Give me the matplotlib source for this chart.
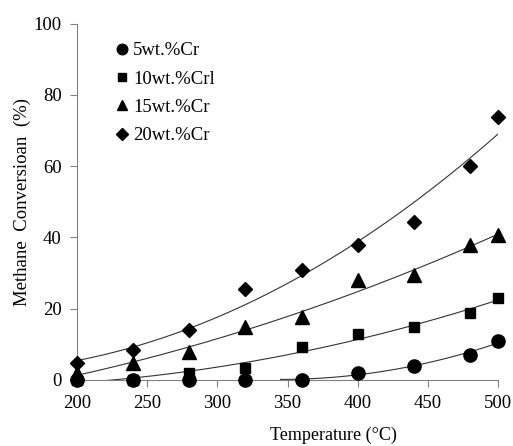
import numpy as np
import matplotlib
matplotlib.use("Agg")
import matplotlib.pyplot as plt

temps = [200, 240, 280, 320, 360, 400, 440, 480, 500]
cr5 = [0, 0, 0, 0, 0, 2.0, 4.0, 7.0, 11.0]
cr10 = [0, 0, 2.0, 3.3, 9.3, 12.9, 14.9, 18.8, 23.0]
cr15 = [2.0, 4.8, 7.9, 14.8, 17.6, 28.0, 29.4, 37.8, 40.6]
cr20 = [4.8, 8.4, 14.0, 25.4, 30.8, 38.0, 44.3, 60.1, 73.8]
labels = ["5wt.%Cr", "10wt.%Crl", "15wt.%Cr", "20wt.%Cr"]
xticks = [200, 250, 300, 350, 400, 450, 500]
yticks = [0, 20, 40, 60, 80, 100]

plt.rcParams['font.family'] = ['Liberation Serif', 'DejaVu Serif']

fig = plt.figure(figsize=(5.13, 4.46), dpi=100)
ax = fig.add_axes([0.150, 0.148, 0.821, 0.799])

x = np.array(temps, dtype=float)
series = [cr5, cr10, cr15, cr20]
markers = ['o', 's', '^', 'D']
msizes = [9.5, 7.5, 9.5, 7.5]

for vals, m, ms, lab in zip(series, markers, msizes, labels):
    y = np.array(vals, dtype=float)
    if lab == labels[0]:
        mask = x >= 360
        c = np.polyfit(x[mask], y[mask], 2)
        xs = np.linspace(345, 500, 100)
    else:
        c = np.polyfit(x, y, 2)
        xs = np.linspace(200, 500, 200)
    ax.plot(xs, np.polyval(c, xs), color='#333333', lw=0.8, zorder=2)
    ax.plot(x, y, linestyle='none', marker=m, markersize=ms, color='black',
            clip_on=False, zorder=3, label=lab)

ax.set_xlim(200, 500)
ax.set_ylim(0, 100)
ax.set_xticks(xticks)
ax.set_yticks(yticks)
for s in ['top', 'right']:
    ax.spines[s].set_visible(False)
for s in ['left', 'bottom']:
    ax.spines[s].set_color('#808080')
    ax.spines[s].set_linewidth(0.8)
ax.tick_params(axis='both', direction='out', length=5, color='#808080',
               labelsize=13.5, width=0.8)
ax.tick_params(axis='x', pad=6)
ax.tick_params(axis='y', pad=6)

ax.set_xlabel('Temperature (°C)', fontsize=13)
ax.xaxis.set_label_coords(0.61, -0.132)
ax.set_ylabel('Methane  Conversioan  (%)', fontsize=13.5)
ax.yaxis.set_label_coords(-0.108, 0.5)

leg = ax.legend(loc='upper left', bbox_to_anchor=(0.06, 0.985), frameon=False,
                fontsize=13.5, handlelength=0.7, handletextpad=0.25,
                labelspacing=0.6, markerscale=0.8, borderpad=0.2)

fig.savefig('out.png', dpi=100)
